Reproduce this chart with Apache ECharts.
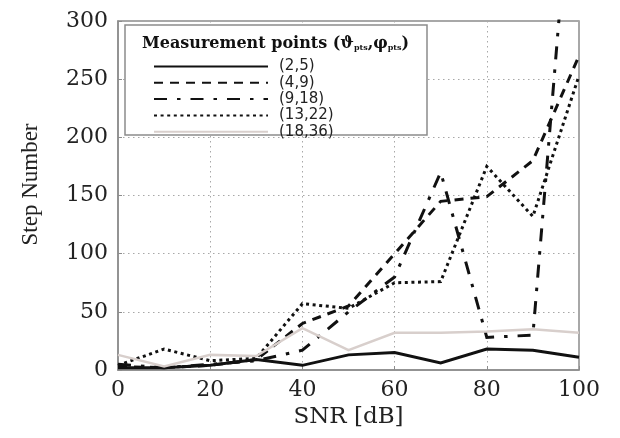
<!DOCTYPE html>
<html>
<head>
<meta charset="utf-8">
<script src="https://cdn.jsdelivr.net/npm/echarts@6/dist/echarts.min.js"></script>
<style>
  html, body { margin: 0; padding: 0; background: #fff; }
  #chart { width: 620px; height: 438px; }
</style>
</head>
<body>
<div id="chart"></div>
<script>
// SNR sweep (dB)
const snr = [0, 10, 20, 30, 40, 50, 60, 70, 80, 90, 100];

// Step numbers for each set of measurement points
const pts_2_5   = [2, 2, 4, 9, 4, 13, 15, 6, 18, 17, 11];
const pts_4_9   = [3, 2, 4, 9, 40, 55, 100, 145, 149, 180, 270];
const pts_9_18  = [5, 2, 5, 8, 17, 50, 80, 170, 28, 30, 510];
const pts_13_22 = [4, 18, 8, 10, 57, 53, 75, 76, 175, 132, 253];
const pts_18_36 = [13, 3, 13, 12, 36, 17, 32, 32, 33, 35, 32];

const seriesNames = ['(2,5)', '(4,9)', '(9,18)', '(13,22)', '(18,36)'];
const xTicks = [0, 20, 40, 60, 80, 100];
const yTicks = [0, 50, 100, 150, 200, 250, 300];

const pair = (ys) => snr.map((x, i) => [x, ys[i]]);

const serifFont = '"DejaVu Serif", "Liberation Serif", serif';

const lineSeries = (name, ys, style) => {
  const lineStyle = Object.assign({ color: '#111', width: 3, cap: 'butt', join: 'miter' }, style);
  return {
    name: name,
    type: 'line',
    data: pair(ys),
    showSymbol: false,
    symbol: 'none',
    clip: true,
    z: 2,
    itemStyle: { color: lineStyle.color },
    lineStyle: lineStyle
  };
};

const chart = echarts.init(document.getElementById('chart'), null, { renderer: 'canvas' });

chart.setOption({
  backgroundColor: '#fff',
  animation: false,
  grid: {
    left: 118, right: 41, top: 21, bottom: 68,
    show: true, borderColor: '#8c8c8c', borderWidth: 1.5,
    backgroundColor: 'transparent'
  },
  title: {
    left: 137, top: 31,
    text: '{b|Measurement points (ϑ}{s|pts}{b|,φ}{s|pts}{b|)}',
    textStyle: {
      rich: {
        b: { fontFamily: serifFont, fontWeight: 'bold', fontSize: 16, color: '#111' },
        s: { fontFamily: serifFont, fontWeight: 'bold', fontSize: 8, color: '#111', padding: [8, 0, 0, 0] }
      }
    },
    z: 6
  },
  graphic: [{
    type: 'rect',
    z: 3,
    shape: { x: 125, y: 25, width: 302, height: 110 },
    style: { fill: '#fff', stroke: '#8c8c8c', lineWidth: 1.5 }
  }],
  legend: {
    data: seriesNames,
    orient: 'vertical',
    left: 153, top: 59,
    padding: 0,
    itemWidth: 114, itemHeight: 12, itemGap: 1.3,
    z: 6,
    itemStyle: { opacity: 0 },
    textStyle: {
      fontFamily: '"DejaVu Sans", sans-serif', fontSize: 15, color: '#222',
      lineHeight: 12, padding: [0, 0, 0, 6]
    }
  },
  xAxis: {
    type: 'value',
    min: 0, max: 100, interval: 20,
    name: 'SNR [dB]',
    nameLocation: 'middle',
    nameGap: 34,
    nameTextStyle: { fontFamily: serifFont, fontSize: 23, color: '#222' },
    axisLine: { show: true, lineStyle: { color: '#8c8c8c', width: 1.5 } },
    axisTick: { show: true, inside: true, length: 4, lineStyle: { color: '#8c8c8c' } },
    axisLabel: {
      fontFamily: serifFont, fontSize: 22, color: '#222', margin: 9,
      customValues: xTicks
    },
    splitLine: { show: true, lineStyle: { color: '#a8a8a8', width: 1, type: [1.5, 3.5] } }
  },
  yAxis: {
    type: 'value',
    min: 0, max: 300, interval: 50,
    name: 'Step Number',
    nameLocation: 'middle',
    nameGap: 76,
    nameRotate: 90,
    nameTextStyle: { fontFamily: '"Liberation Serif", serif', fontSize: 23, color: '#222', padding: [0, 0, 0, 22] },
    axisLine: { show: true, lineStyle: { color: '#8c8c8c', width: 1.5 } },
    axisTick: { show: true, inside: true, length: 4, lineStyle: { color: '#8c8c8c' } },
    axisLabel: {
      fontFamily: serifFont, fontSize: 22, color: '#222', margin: 10,
      customValues: yTicks
    },
    splitLine: { show: true, lineStyle: { color: '#a8a8a8', width: 1, type: [1.5, 3.5] } }
  },
  series: [
    lineSeries(seriesNames[0], pts_2_5,   { type: 'solid' }),
    lineSeries(seriesNames[1], pts_4_9,   { type: [9, 7] }),
    lineSeries(seriesNames[2], pts_9_18,  { type: [13, 10, 3.5, 10] }),
    lineSeries(seriesNames[3], pts_13_22, { type: [3, 3.6] }),
    lineSeries(seriesNames[4], pts_18_36, { type: 'solid', color: '#d8cfcc', width: 2.5 })
  ]
});
</script>
</body>
</html>
